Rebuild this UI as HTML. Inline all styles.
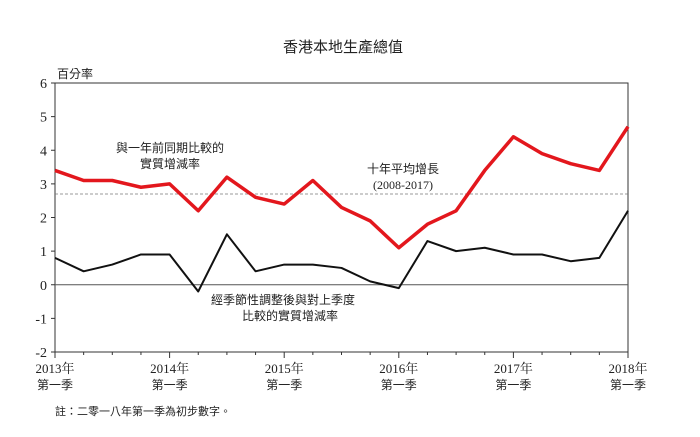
<!DOCTYPE html>
<html><head><meta charset="utf-8"><style>
body{margin:0;background:#fff;}
svg text{font-family:"Liberation Serif","Noto Serif CJK SC","Noto Sans CJK TC",serif;fill:#222;}
</style></head><body>
<svg width="700" height="432" viewBox="0 0 700 432">
<text x="343" y="52" text-anchor="middle" font-size="15" style="font-family:'Noto Sans CJK TC',sans-serif">香港本地生產總值</text>
<text x="57" y="78" font-size="12" style="font-family:'Noto Sans CJK TC',sans-serif">百分率</text>
<g id="axes"></g>
<g id="marks"></g>
<text x="170" y="152" text-anchor="middle" font-size="12" style="font-family:'Noto Sans CJK TC',sans-serif"><tspan x="170">與一年前同期比較的</tspan><tspan x="170" dy="16">實質增減率</tspan></text>
<text x="403" y="173" text-anchor="middle" font-size="12" style="font-family:'Noto Sans CJK TC',sans-serif">十年平均增長</text>
<text x="403" y="189" text-anchor="middle" font-size="12">(2008-2017)</text>
<text x="283" y="304" text-anchor="middle" font-size="12" style="font-family:'Noto Sans CJK TC',sans-serif"><tspan x="283">經季節性調整後與對上季度</tspan><tspan x="290" dy="16">比較的實質增減率</tspan></text>
<text x="55" y="415" font-size="11" style="font-family:'Noto Sans CJK TC',sans-serif">註：二零一八年第一季為初步數字。</text>
</svg>
<script>
const red=[3.4,3.1,3.1,2.9,3.0,2.2,3.2,2.6,2.4,3.1,2.3,1.9,1.1,1.8,2.2,3.4,4.4,3.9,3.6,3.4,4.7];
const black=[0.8,0.4,0.6,0.9,0.9,-0.2,1.5,0.4,0.6,0.6,0.5,0.1,-0.1,1.3,1.0,1.1,0.9,0.9,0.7,0.8,2.2];
const avg=2.7;
const yTicks=[6,5,4,3,2,1,0,-1,-2];
const years=["2013年","2014年","2015年","2016年","2017年","2018年"];
const L=55,R=628,T=83,B=352;
const xs=i=>L+(R-L)*i/(red.length-1);
const ys=v=>T+(6-v)*(B-T)/8;
const NS="http://www.w3.org/2000/svg";
function mk(tag,attrs,parent,text){const e=document.createElementNS(NS,tag);for(const k in attrs)e.setAttribute(k,attrs[k]);if(text!=null)e.textContent=text;parent.appendChild(e);return e;}
const ax=document.getElementById('axes'),mg=document.getElementById('marks');
let fr=mk('rect',{x:L,y:T,width:R-L,height:B-T,fill:'none',stroke:'#333','stroke-width':1},ax);


yTicks.forEach(v=>{
 let t=mk('text',{x:L-8,y:ys(v)+5,'text-anchor':'end','font-size':14},ax,String(v));
 
 
 mk('line',{x1:L-4,x2:L,y1:ys(v),y2:ys(v),stroke:'#333'},ax);
});
let z=mk('line',{x1:L,x2:R,y1:ys(0),y2:ys(0),stroke:'#555','stroke-width':1},ax);


let d=mk('line',{x1:L,x2:R,y1:ys(avg),y2:ys(avg),stroke:'#777','stroke-width':0.8,'stroke-dasharray':'3,2'},ax);


for(let i=0;i<red.length;i++){mk('line',{x1:xs(i),x2:xs(i),y1:B,y2:B+(i%4==0?6:3),stroke:'#333'},ax);}
years.forEach((y,k)=>{
 let t=mk('text',{x:xs(k*4),y:B+21,'text-anchor':'middle','font-size':13},ax,y);
 
 
 let q=mk('text',{x:xs(k*4),y:B+37,'text-anchor':'middle','font-size':12,style:"font-family:'Noto Sans CJK TC',sans-serif"},ax,'第一季');
 
 
});
const pts=a=>a.map((v,i)=>xs(i)+','+ys(v)).join(' ');
let pr=mk('polyline',{points:pts(red),fill:'none',stroke:'#e3171d','stroke-width':3.5,'stroke-linejoin':'round'},mg);


let pb=mk('polyline',{points:pts(black),fill:'none',stroke:'#111','stroke-width':2,'stroke-linejoin':'round'},mg);


</script>
</body></html>
